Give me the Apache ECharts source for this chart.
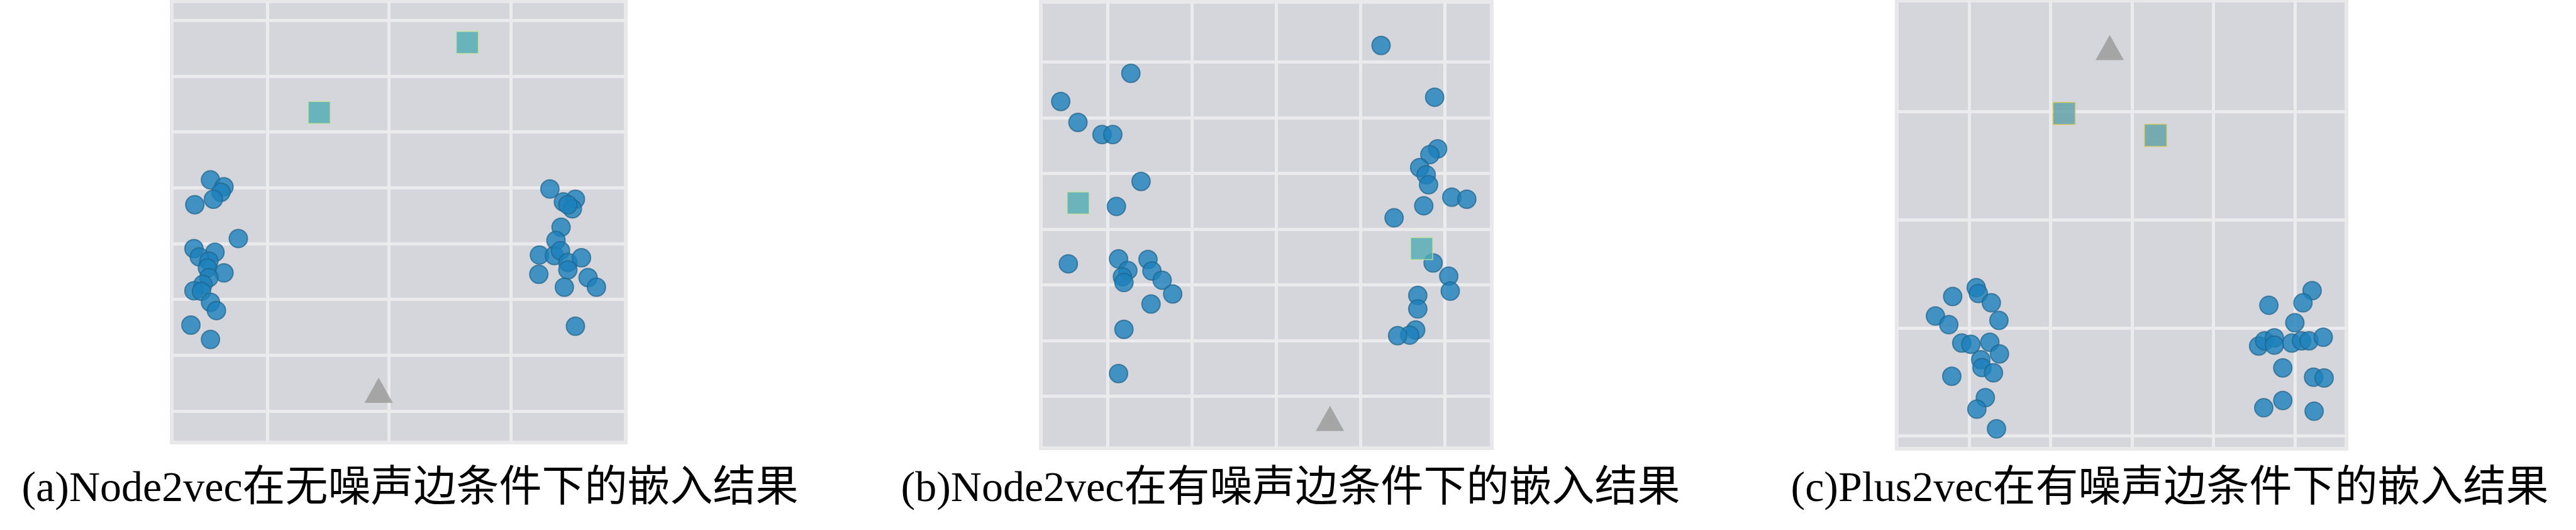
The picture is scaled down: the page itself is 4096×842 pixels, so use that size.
<!DOCTYPE html>
<html>
<head>
<meta charset="utf-8">
<script src="https://cdn.jsdelivr.net/npm/echarts@6/dist/echarts.min.js"></script>
<style>
html,body{margin:0;padding:0;background:#ffffff;}
#chart{width:4096px;height:842px;}
</style>
</head>
<body>
<div id="chart"></div>
<script>
// ---- Captions ----
const captions = [
  '(a)Node2vec在无噪声边条件下的嵌入结果',
  '(b)Node2vec在有噪声边条件下的嵌入结果',
  '(c)Plus2vec在有噪声边条件下的嵌入结果'
];

// ---- Grid-line tick values (in grid units) ----
const aXTicks = [1, 2, 3];
const aYTicks = [1, 2, 3, 4, 5, 6, 7, 8];
const bXTicks = [1, 2, 3, 4, 5];
const bYTicks = [1, 2, 3, 4, 5, 6, 7];
const cXTicks = [1, 2, 3, 4, 5];
const cYTicks = [1, 2, 3, 4];

// ---- Panel (a): Node2vec, no noisy edges ----
const aCircles = [
  [0.531,5.141],[0.642,5.018],[0.617,4.919],[0.555,4.796],[0.402,4.697],
  [0.760,4.091],[0.395,3.909],[0.568,3.844],[0.439,3.761],[0.518,3.687],
  [0.506,3.563],[0.642,3.475],[0.518,3.391],[0.469,3.268],[0.395,3.154],
  [0.457,3.144],[0.531,2.947],[0.580,2.799],[0.370,2.538],[0.531,2.282],
  [3.322,4.978],[3.433,4.747],[3.532,4.796],[3.507,4.623],[3.470,4.697],
  [3.414,4.293],[3.372,4.056],[3.236,3.795],[3.359,3.785],[3.409,3.874],
  [3.470,3.662],[3.582,3.746],[3.470,3.529],[3.231,3.450],[3.636,3.391],
  [3.705,3.218],[3.441,3.218],[3.532,2.518]
];
const aSquares = [[2.643,7.606],[1.425,6.349]];
const aTriangles = [[1.914,1.370]];

// ---- Panel (b): Node2vec, noisy edges ----
const bCircles = [
  [1.278,6.799],[0.447,6.293],[0.651,5.916],[0.936,5.699],[1.064,5.699],
  [1.399,4.857],[1.107,4.408],[0.537,3.376],[1.132,3.464],[1.242,3.257],
  [1.178,3.144],[1.196,3.040],[1.481,3.453],[1.528,3.247],[1.649,3.082],
  [1.774,2.834],[1.517,2.653],[1.196,2.199],[1.132,1.404],
  [4.244,7.299],[4.879,6.370],[4.914,5.441],[4.822,5.338],[4.701,5.105],
  [4.779,4.976],[4.807,4.796],[5.082,4.574],[5.260,4.537],[4.750,4.419],
  [4.398,4.202],[4.861,3.391],[5.046,3.154],[5.064,2.885],[4.679,2.808],
  [4.679,2.565],[4.654,2.188],[4.583,2.095],[4.440,2.085]
];
const bSquares = [[0.654,4.470],[4.725,3.649]];
const bTriangles = [[3.638,0.598]];

// ---- Panel (c): Plus2vec, noisy edges ----
const cCircles = [
  [1.085,2.371],[1.111,2.317],[0.796,2.290],[1.271,2.231],[0.584,2.109],
  [0.748,2.029],[1.364,2.069],[0.907,1.859],[1.019,1.848],[1.252,1.867],
  [1.371,1.759],[1.141,1.705],[1.156,1.633],[1.297,1.584],[0.785,1.552],
  [1.197,1.355],[1.093,1.248],[1.334,1.067],
  [5.212,2.344],[5.100,2.231],[4.681,2.209],[5.000,2.047],[4.555,1.832],
  [4.629,1.880],[4.748,1.907],[4.748,1.840],[4.963,1.859],[5.082,1.880],
  [5.174,1.880],[5.349,1.913],[4.852,1.630],[5.230,1.544],[5.360,1.536],
  [4.852,1.328],[4.618,1.261],[5.237,1.229]
];
const cSquares = [[2.165,3.981],[3.289,3.779]];
const cTriangles = [[2.725,4.590]];

// ---- build option ----
const panels = [
  {grid:{left:273, top:2, width:722, height:701}, x:[0.212,3.946], y:[0.434,8.344],
   xt:aXTicks, yt:aYTicks, circles:aCircles, squares:aSquares, tris:aTriangles,
   sqColor:'#4eabb3', sqBorder:'#c9e39a', cap:captions[0], capX:652},
  {grid:{left:1655, top:3, width:717, height:709}, x:[0.211,5.556], y:[0.064,8.082],
   xt:bXTicks, yt:bYTicks, circles:bCircles, squares:bSquares, tris:bTriangles,
   sqColor:'#50abb3', sqBorder:'#c9e39a', cap:captions[1], capX:2052},
  {grid:{left:3016, top:1, width:715, height:712}, x:[0.109,5.634], y:[0.882,5.024],
   xt:cXTicks, yt:cYTicks, circles:cCircles, squares:cSquares, tris:cTriangles,
   sqColor:'#5c9fa5', sqBorder:'#d6c84e', cap:captions[2], capX:3450}
];

const grids = [], xAxes = [], yAxes = [], series = [], graphics = [];
panels.forEach((p, i) => {
  grids.push(Object.assign({show:true, backgroundColor:'#d5d6db', borderColor:'#e8e8eb', borderWidth:6, containLabel:false}, p.grid));
  const splitStyle = {show:true, lineStyle:{color:'#ebebee', width:5}};
  xAxes.push({type:'value', gridIndex:i, min:p.x[0], max:p.x[1],
    axisLine:{show:false}, axisLabel:{show:false},
    axisTick:{show:false, customValues:p.xt}, splitLine:splitStyle});
  yAxes.push({type:'value', gridIndex:i, min:p.y[0], max:p.y[1],
    axisLine:{show:false}, axisLabel:{show:false},
    axisTick:{show:false, customValues:p.yt}, splitLine:splitStyle});
  series.push({type:'scatter', xAxisIndex:i, yAxisIndex:i, data:p.circles, symbol:'circle', symbolSize:29,
    itemStyle:{color:'#1b81bb', borderColor:'rgba(32,100,140,0.9)', borderWidth:2}, z:3, silent:true, clip:false});
  series.push({type:'scatter', xAxisIndex:i, yAxisIndex:i, data:p.squares, symbol:'rect', symbolSize:35,
    itemStyle:{color:p.sqColor, borderColor:p.sqBorder, borderWidth:1.5}, z:4, silent:true, clip:false});
  series.push({type:'scatter', xAxisIndex:i, yAxisIndex:i, data:p.tris, symbol:'triangle', symbolSize:[45,40],
    itemStyle:{color:'#999999'}, z:4, silent:true, clip:false});
  graphics.push({type:'text', x:p.capX, y:778, style:{text:p.cap, fill:'#000000',
    font:"68px 'Liberation Serif', 'Noto Sans CJK SC', serif", textAlign:'center', textVerticalAlign:'middle'}});
});

const chart = echarts.init(document.getElementById('chart'), null, {renderer:'canvas'});
chart.setOption({
  backgroundColor:'#ffffff',
  animation:false,
  grid:grids, xAxis:xAxes, yAxis:yAxes, series:series,
  graphic:graphics
});
</script>
</body>
</html>
